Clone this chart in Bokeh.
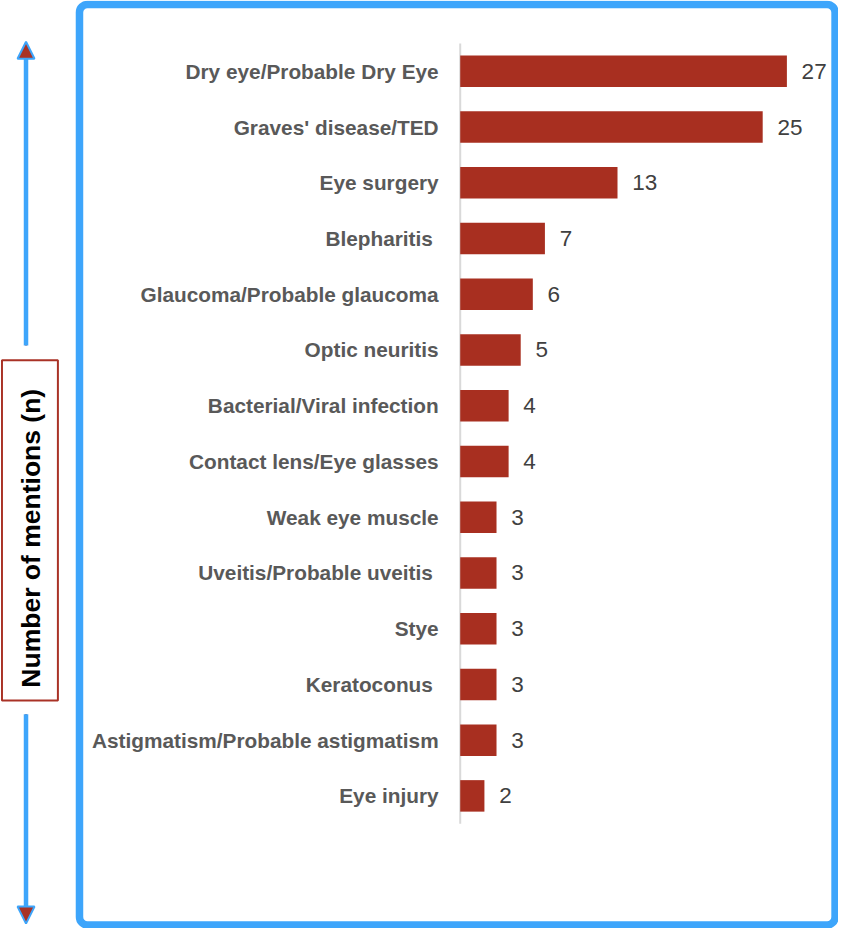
import math
from bokeh.plotting import figure
from bokeh.models import Range1d, Label, Arrow, NormalHead, BoxAnnotation
from bokeh.core.properties import value
from bokeh.embed import file_html
from bokeh.resources import INLINE

# ---- data ----
categories = [
    "Dry eye/Probable Dry Eye",
    "Graves' disease/TED",
    "Eye surgery",
    "Blepharitis ",
    "Glaucoma/Probable glaucoma",
    "Optic neuritis",
    "Bacterial/Viral infection",
    "Contact lens/Eye glasses",
    "Weak eye muscle",
    "Uveitis/Probable uveitis ",
    "Stye",
    "Keratoconus ",
    "Astigmatism/Probable astigmatism",
    "Eye injury",
]
mentions = [27, 25, 13, 7, 6, 5, 4, 4, 3, 3, 3, 3, 3, 2]
axis_title = "Number of mentions (n)"

# ---- layout (pixels in the figure canvas) ----
W, H = 838, 928
SX, SY = 838 / 854, 928 / 944
KX = 12.33 * SX          # px per mention
X0 = 468.5 * SX          # px of zero
KY = 56.7 * SY           # px per row
Y0 = 72.0 * SY           # px of first row centre

def px2x(px):
    return (px - X0) / KX

def py2y(py):
    return (py - Y0) / KY

BAR = "#A82F20"
BLUE = "#3DA5FB"
DARKRED = "#A93226"

p = figure(width=W, height=H, output_backend="svg", toolbar_location=None,
           x_range=Range1d(px2x(0), px2x(W)), y_range=Range1d(py2y(H), py2y(0)),
           x_axis_type=None, y_axis_type=None, min_border=0)
p.grid.visible = False
p.outline_line_color = None
p.background_fill_color = "white"

n = len(categories)
ys = list(range(n))

# axis line
p.segment(x0=[0], y0=[-0.5], x1=[0], y1=[n - 0.5], line_color="#D9D9D9", line_width=2)

# bars
p.hbar(y=ys, left=0, right=mentions, height=0.565, fill_color=BAR, line_color=None)

# value labels
p.text(x=mentions, y=ys, text=[str(v) for v in mentions], x_offset=15 * SX,
       text_align="left", text_baseline="middle", text_font=value("Liberation Sans"),
       text_font_size="22.5px", text_color="#404040")

# category labels
p.text(x=[0] * n, y=ys, text=categories, x_offset=-22 * SX,
       text_align="right", text_baseline="middle", text_font=value("Liberation Sans"),
       text_font_style="bold", text_font_size="20.8px", text_color="#595959")

# blue frame
p.add_layout(BoxAnnotation(left=px2x(80.5 * SX), right=px2x(850.5 * SX),
                           top=py2y(4 * SY), bottom=py2y(940.5 * SY),
                           fill_color=None, line_color=BLUE, line_alpha=1.0, line_width=7.5,
                           border_radius=8))

# left title box
p.add_layout(BoxAnnotation(left=px2x(1.5 * SX), right=px2x(58.5 * SX),
                           top=py2y(366 * SY), bottom=py2y(712 * SY),
                           fill_color="white", fill_alpha=1.0,
                           line_color=DARKRED, line_alpha=1.0, line_width=2))
p.add_layout(Label(x=px2x(31 * SX), y=py2y(547 * SY), text=axis_title, angle=math.pi / 2,
                   text_align="center", text_baseline="middle",
                   text_font="Liberation Sans", text_font_style="bold",
                   text_font_size="26.5px", text_color="black"))

# arrows
ax = px2x(26 * SX)
for y_start, y_tip, y_base in [(351, 42, 58), (726, 939, 922)]:
    p.add_layout(Arrow(x_start=ax, y_start=py2y(y_start * SY), x_end=ax, y_end=py2y(y_tip * SY),
                       line_color=BLUE, line_width=4.5,
                       end=NormalHead(size=17, fill_color=DARKRED, line_color=BLUE, line_width=2)))
    p.segment(x0=[ax], y0=[py2y(y_start * SY)], x1=[ax], y1=[py2y(y_base * SY)],
              line_color=DARKRED, line_width=1.8)

open("out.html", "w").write(file_html(p, INLINE))
